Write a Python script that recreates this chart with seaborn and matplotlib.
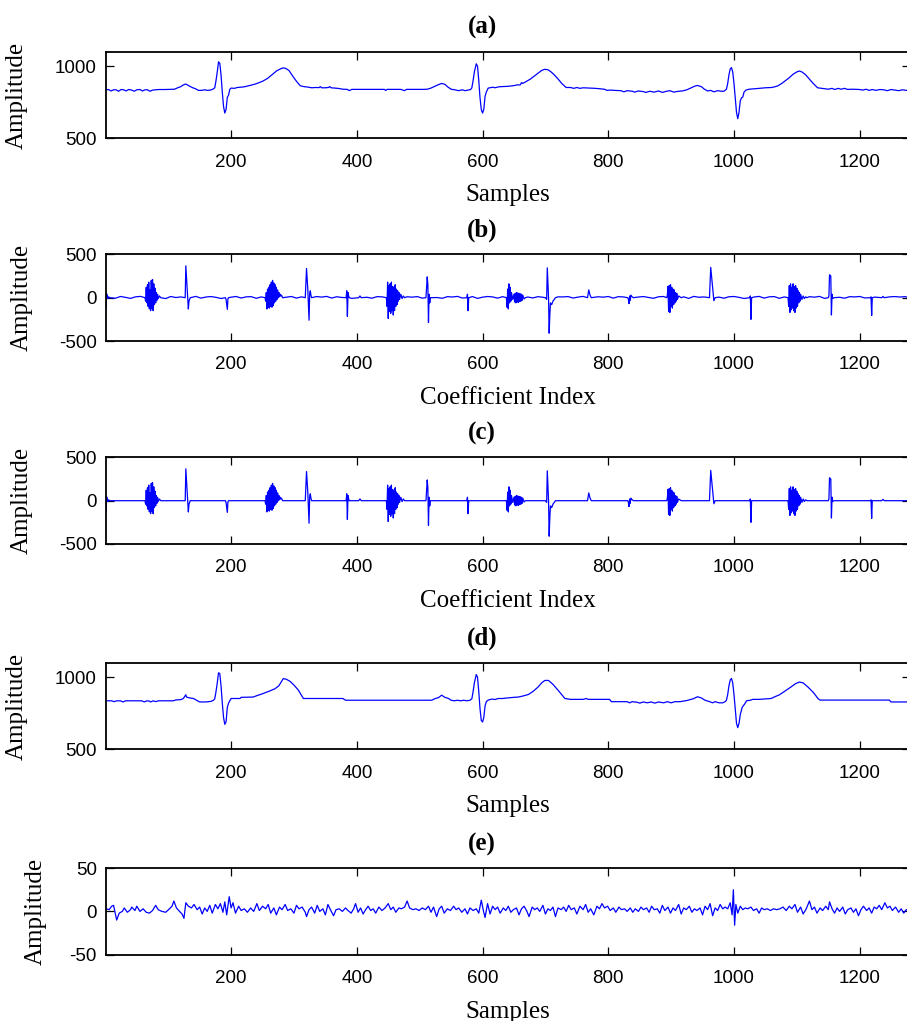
import matplotlib
matplotlib.use('Agg')
import matplotlib.pyplot as plt
import seaborn as sns

# (a) original ECG segment (sample, amplitude)
a_x = [1, 5, 9, 13, 17, 21, 25, 29, 33, 37, 42, 46, 50, 55, 59, 63, 67, 71, 75, 80, 85, 95, 110, 115, 120, 124, 128,
       132, 138, 144, 148, 153, 158, 162, 167, 171, 174, 176, 178, 180, 182, 184, 186, 188, 190, 192, 194, 196, 198,
       200, 205, 210, 220, 230, 240, 250, 258, 265, 272, 279, 283, 287, 292, 299, 304, 310, 316, 322, 328, 335, 340,
       342, 344, 350, 355, 357, 359, 370, 378, 385, 388, 392, 430, 444, 446, 448, 470, 476, 479, 505, 512, 518, 524,
       530, 535, 540, 545, 550, 556, 562, 568, 572, 577, 581, 583, 585, 587, 590, 592, 594, 596, 598, 600, 602, 604,
       606, 609, 612, 616, 620, 625, 630, 640, 650, 655, 660, 662, 664, 670, 676, 682, 688, 694, 699, 704, 709, 714,
       720, 726, 733, 740, 745, 750, 755, 760, 770, 780, 794, 798, 803, 810, 820, 825, 830, 838, 842, 848, 855, 860,
       866, 873, 880, 886, 893, 898, 904, 912, 918, 925, 932, 938, 942, 948, 953, 958, 963, 968, 974, 980, 984, 988,
       990, 992, 994, 996, 998, 1000, 1002, 1004, 1006, 1008, 1010, 1012, 1014, 1016, 1019, 1024, 1030, 1040, 1050,
       1060, 1066, 1070, 1076, 1082, 1088, 1094, 1100, 1104, 1108, 1114, 1120, 1126, 1133, 1140, 1150, 1156, 1160,
       1166, 1170, 1176, 1180, 1190, 1200, 1205, 1210, 1215, 1220, 1226, 1232, 1238, 1244, 1250, 1256, 1262, 1268,
       1274, 1280]
a_y = [836, 838, 828, 836, 836, 826, 838, 836, 828, 838, 834, 826, 836, 838, 828, 836, 836, 826, 834, 836, 838, 838,
       840, 850, 858, 870, 876, 866, 852, 842, 832, 832, 836, 832, 834, 840, 850, 900, 960, 1030, 1020, 940, 820, 720,
       675, 700, 784, 800, 840, 848, 846, 852, 856, 866, 878, 895, 915, 940, 966, 982, 988, 984, 970, 925, 895, 864,
       858, 855, 850, 852, 851, 858, 850, 850, 852, 858, 850, 846, 840, 839, 830, 839, 839, 839, 831, 839, 839, 830,
       839, 839, 840, 848, 860, 872, 880, 874, 855, 840, 836, 830, 836, 830, 834, 838, 850, 900, 960, 1016, 1000, 900,
       780, 700, 675, 700, 790, 820, 848, 850, 854, 850, 856, 858, 860, 865, 870, 870, 886, 880, 895, 910, 930, 950,
       970, 978, 975, 960, 940, 912, 880, 852, 852, 846, 852, 846, 850, 848, 846, 840, 832, 834, 832, 830, 822, 830,
       826, 820, 828, 824, 818, 826, 820, 828, 818, 826, 830, 820, 826, 828, 836, 850, 862, 866, 858, 840, 828, 832,
       822, 830, 826, 826, 840, 880, 940, 980, 990, 960, 880, 780, 680, 636, 680, 760, 780, 786, 820, 834, 840, 842,
       846, 850, 852, 858, 864, 880, 900, 920, 944, 960, 966, 960, 940, 910, 880, 850, 846, 840, 846, 838, 846, 840,
       846, 839, 840, 838, 834, 840, 832, 838, 832, 838, 836, 830, 838, 834, 830, 836, 832, 830]

# (d) denoised ECG
d_x = [1, 10, 14, 18, 24, 28, 32, 58, 62, 66, 70, 72, 76, 80, 84, 108, 112, 120, 124, 128, 129, 134, 140, 146, 150,
       160, 168, 172, 174, 176, 178, 180, 182, 184, 186, 188, 190, 192, 194, 196, 198, 200, 214, 216, 235, 240, 250,
       262, 270, 276, 283, 288, 294, 300, 307, 315, 378, 382, 519, 525, 530, 535, 540, 546, 550, 555, 560, 565, 570,
       575, 580, 583, 585, 587, 590, 592, 594, 596, 598, 600, 602, 604, 606, 609, 615, 620, 625, 632, 640, 650, 657,
       665, 673, 680, 688, 694, 699, 705, 712, 720, 731, 740, 760, 765, 768, 802, 805, 830, 834, 838, 846, 850, 856,
       862, 868, 874, 880, 888, 894, 900, 906, 914, 925, 935, 942, 948, 954, 960, 966, 970, 976, 982, 986, 988, 990,
       992, 994, 996, 998, 1000, 1002, 1004, 1006, 1008, 1010, 1013, 1017, 1020, 1026, 1030, 1040, 1059, 1066, 1072,
       1080, 1090, 1098, 1104, 1110, 1118, 1126, 1134, 1137, 1247, 1250, 1280]
d_y = [836, 836, 830, 836, 836, 828, 836, 836, 828, 836, 834, 828, 836, 830, 836, 836, 842, 844, 852, 878, 862, 856,
       852, 838, 828, 828, 832, 840, 850, 900, 960, 1030, 1025, 940, 820, 720, 673, 690, 790, 820, 836, 852, 852, 860,
       862, 870, 885, 905, 920, 940, 990, 985, 970, 945, 910, 852, 852, 840, 840, 852, 858, 875, 860, 852, 840, 836,
       840, 836, 840, 836, 840, 850, 900, 960, 1018, 1000, 900, 780, 700, 689, 720, 800, 830, 841, 848, 845, 852, 852,
       856, 860, 862, 870, 880, 900, 930, 960, 977, 977, 950, 910, 852, 846, 846, 852, 846, 846, 830, 830, 822, 830,
       826, 820, 828, 822, 828, 820, 828, 822, 830, 822, 830, 830, 838, 850, 864, 856, 840, 832, 822, 830, 822, 822,
       830, 840, 880, 940, 980, 991, 960, 880, 780, 680, 650, 680, 740, 790, 814, 836, 840, 846, 846, 852, 866, 877,
       900, 930, 955, 966, 960, 930, 895, 850, 841, 841, 828, 828]

# (b)/(c) significant wavelet coefficients (index, value)
coef_x = [1, 2, 3, 4, 5, 7,
          63, 64, 65, 66, 67, 68, 69, 70, 71, 72, 73, 74, 75, 76, 77, 78, 79, 80, 81, 82, 83, 84, 86, 88,
          127, 128, 132, 133, 135,
          191, 192, 194, 195, 196,
          254, 255, 256, 257, 258, 259, 260, 261, 262, 263, 264, 265, 266, 267, 268, 269, 270, 271, 272, 273, 274,
          275, 276, 277, 278, 279, 280, 282,
          318, 320, 322, 324, 325, 326, 327, 328,
          383, 384, 385, 386, 387, 388,
          403, 405, 407,
          447, 448, 449, 450, 451, 452, 453, 454, 455, 456, 457, 458, 459, 460, 461, 462, 463, 464, 465, 466, 467,
          468, 470, 472, 474, 476,
          510, 512, 513, 514, 515, 516, 517,
          575, 576, 577, 578,
          638, 639, 640, 641, 642, 643, 644, 645, 646, 648, 650, 651, 652, 653, 654, 655, 656, 657, 658, 659, 660,
          661, 662, 663, 664, 666, 668,
          700, 702, 703, 705, 706, 707, 708, 710, 712, 714, 716,
          767, 769, 771, 773,
          831, 832, 833, 834, 835, 836, 838, 840,
          893, 894, 895, 896, 897, 898, 899, 900, 901, 902, 903, 904, 905, 906, 907, 908, 909, 910, 912, 914, 916,
          961, 963, 968, 970,
          1025, 1026, 1027, 1028,
          1086, 1087, 1088, 1089, 1090, 1091, 1092, 1093, 1094, 1095, 1096, 1097, 1098, 1099, 1100, 1101, 1102,
          1103, 1104, 1105, 1106, 1108, 1110, 1112, 1114, 1116,
          1150, 1151, 1152, 1154, 1155, 1156, 1157, 1159,
          1217, 1218, 1219, 1220,
          1235, 1237, 1239,
          1280]
coef_y = [-120, 45, 20, -10, 10, 0,
          0, -40, 120, -60, 150, -100, 180, -130, 90, -150, 200, -120, 210, -150, 160, -80, 110, -60, 60, -30, 40,
          -10, 20, 0,
          0, 368, -130, -40, 0,
          0, -20, -135, -10, 0,
          0, -40, 60, -130, 100, -110, 120, -120, 150, -100, 180, -110, 200, -90, 170, -60, 150, -40, 120, -20, 90,
          0, 60, 10, 40, 20, 30, 0,
          0, 337, 100, -260, 50, 80, 30, 0,
          0, 80, -216, 60, 20, 0,
          0, 20, 0,
          0, -100, 180, -240, 140, -160, 160, -180, 180, -150, 130, -200, 120, -150, 150, -100, 100, -80, 80, -40,
          60, -20, 40, -10, 20, 0,
          0, 240, 150, -286, 40, -60, 0,
          0, 40, -150, 0,
          0, -110, 100, -130, 160, -60, 120, -40, 60, -20, 40, -50, 50, -60, 60, -50, 55, -55, 50, -45, 45, -40,
          40, -30, 30, -15, 0,
          0, -20, 345, 0, -410, -200, -60, -80, -40, -20, 0,
          0, 90, 30, 0,
          0, -20, -68, 20, -30, 30, 10, 0,
          0, 30, 130, -160, 140, -170, 150, -100, 120, -120, 100, -80, 90, -60, 60, -40, 50, -20, 20, 10, 0,
          0, 350, -35, 0,
          0, 20, -250, 0,
          0, -100, 140, -170, 160, -140, 120, -120, 160, -150, 130, -170, 140, -120, 110, -100, 80, -60, 60, -40,
          40, -20, 20, -10, 10, 0,
          0, 20, 265, 250, -200, 40, -10, 0,
          0, 10, -205, 0,
          0, 15, 0,
          0]

# (b) small detail coefficients removed by thresholding (every 8th index)
small_x = list(range(8, 1280, 8))
small_y = [12, -6, 14, 4, -8, 10, 15, -4, 8, 12,
           6, -10, 14, 2, 9, -6, 12, 15, -5, 8,
           13, 4, -9, 11, 6, 14, -4, 10, 12, -7,
           9, 15, 3, -8, 12, 6, 14, -5, 10, 8,
           -6, 13, 7, 15, -4, 11, 3, 12, -8, 9,
           14, 5, -6, 12, 10, -3, 15, 7, -9, 11,
           6, 13, -5, 9, 14, 2, -7, 12, 8, 15,
           -4, 10, 13, -8, 6, 14, 9, -5, 12, 4,
           11, -6, 15, 8, -3, 12, 5, 14, -7, 10,
           9, 13, -4, 7, 15, 2, -8, 11, 6, 14,
           -5, 12, 9, 15, -6, 8, 13, 3, -7, 11,
           14, 6, -4, 12, 10, -8, 15, 5, 9, -3,
           13, 7, -6, 11, 14, 4, -9, 12, 8, 15,
           -5, 10, 13, -7, 9, 14, 2, 11, -4, 12,
           6, 15, -8, 10, 13, 5, -6, 12, 9, 14,
           -3, 11, 7, 15, -5, 10, 13, 8, 12]

# (e) removed noise
e_x = [1, 6, 10, 13, 18, 22, 27, 30, 35, 40, 42, 47, 50, 55, 60, 65, 70, 75, 80, 84, 90, 96, 102, 106, 109, 113, 118,
       122, 125, 128, 132, 137, 141, 146, 150, 154, 158, 162, 166, 170, 175, 179, 183, 187, 190, 193, 197, 200, 203,
       207, 212, 216, 221, 226, 231, 236, 241, 245, 250, 255, 259, 263, 268, 272, 277, 281, 286, 290, 295, 300, 304,
       308, 313, 318, 320, 324, 328, 333, 337, 341, 346, 350, 354, 358, 363, 367, 372, 377, 382, 386, 391, 395, 398,
       402, 406, 410, 414, 418, 422, 426, 430, 435, 440, 445, 450, 454, 458, 462, 467, 471, 476, 480, 484, 489, 494,
       499, 504, 509, 514, 518, 522, 527, 531, 535, 539, 544, 549, 554, 558, 562, 567, 572, 576, 580, 585, 590, 594,
       598, 601, 604, 608, 612, 616, 620, 624, 628, 633, 637, 641, 645, 649, 654, 658, 662, 666, 670, 674, 679, 683,
       687, 691, 696, 700, 704, 708, 712, 716, 720, 725, 729, 733, 737, 741, 746, 750, 755, 760, 764, 768, 772, 777,
       782, 786, 790, 794, 799, 803, 808, 812, 817, 821, 826, 830, 835, 839, 843, 848, 852, 856, 861, 865, 869, 873,
       878, 882, 886, 890, 895, 899, 903, 907, 912, 916, 920, 924, 929, 933, 937, 941, 946, 950, 954, 958, 962, 966,
       970, 974, 978, 982, 986, 990, 994, 997, 999, 1001, 1003, 1006, 1010, 1014, 1018, 1022, 1027, 1031, 1036,
       1040, 1044, 1048, 1053, 1058, 1063, 1068, 1073, 1078, 1083, 1088, 1092, 1097, 1101, 1106, 1110, 1115, 1120,
       1124, 1128, 1132, 1137, 1141, 1146, 1150, 1152, 1156, 1160, 1164, 1168, 1173, 1177, 1181, 1186, 1190, 1194,
       1198, 1202, 1206, 1211, 1215, 1219, 1223, 1227, 1231, 1235, 1240, 1244, 1248, 1252, 1257, 1262, 1266, 1270,
       1274, 1279]
e_y = [3, 2, 6, 7, -10, -2, 0, 4, -1, 2, 5, 1, 6, 0, 3, -1, -2, 1, 7, 2, 0, -1, 3, 6, 12, 4, 0, -3, -8, 10, 6, 4,
       8, 2, 5, -3, 4, 0, 7, -2, 8, 3, 9, -1, 11, -4, 17, 4, 10, -2, 6, 1, 3, -1, 4, 0, 9, 1, 6, 3, 8, -2, 4, -4, 5,
       2, 8, 1, 3, -2, 7, 3, 5, -1, -6, 2, 5, -2, 7, 0, 3, -4, 8, 2, -5, 2, 3, 0, 4, 1, -2, 3, 9, -1, 4, -3, 2, 6, 1,
       3, -2, 5, 1, 4, 9, 2, 5, -1, 4, 3, 5, 12, 4, 2, 3, 1, 4, 2, 6, -1, 5, -6, 3, 6, -2, 3, 1, 6, 2, 4, -1, 3, -3,
       4, 1, 3, -2, 13, 2, -7, 9, -3, 6, 2, 5, -2, 4, 1, 6, -1, 2, 4, -4, 3, 6, 1, -6, 5, 2, 4, 0, 7, -3, 3, 1, 5, -6,
       4, 2, 5, 0, 7, 2, 4, -3, 6, 2, 8, -1, 3, -4, 6, 3, 9, 4, 6, 1, 4, -1, 5, 2, 3, 0, 4, -1, 3, 0, 5, 2, 4, -1, 6,
       2, 3, -2, 7, 1, 5, -2, 4, 1, 8, -3, 4, 2, 6, -1, 3, 1, 4, -4, 6, 2, 9, -5, 4, 1, 8, 3, 5, 3, 10, -4, 25, -16, 8,
       -2, 6, 2, 4, 3, 5, 1, 3, -2, 4, 2, 3, 1, 3, 2, 3, 5, 1, 6, 3, 8, -1, 5, -3, 3, 12, 2, 5, -2, 4, 1, 6, 2, 11, 3,
       -2, 4, 0, 5, -3, 2, 4, -1, 3, -5, 2, 6, 1, 4, -2, 5, 3, 7, 2, 10, 4, 6, 1, 5, -1, 3, -2, 2, 0]


def with_small_coefs(cx, cy, sx, sy):
    # split the kept coefficients into events and drop small ones that fall inside them
    spans = []
    start = cx[0]
    for lo, hi in zip(cx[:-1], cx[1:]):
        if hi - lo > 10:
            spans.append((start, lo))
            start = hi
    spans.append((start, cx[-1]))
    keep = [(x, y) for x, y in zip(sx, sy)
            if not any(s0 - 3 <= x <= s1 + 3 for s0, s1 in spans)]
    pts = sorted(list(zip(cx, cy)) + keep)
    return [p[0] for p in pts], [p[1] for p in pts]


b_x, b_y = with_small_coefs(coef_x, coef_y, small_x, small_y)

panels = [
    ('(a)', a_x, a_y, 'Samples', (500, 1100), [500, 1000], 28),
    ('(b)', b_x, b_y, 'Coefficient Index', (-500, 500), [-500, 0, 500], 33),
    ('(c)', coef_x, coef_y, 'Coefficient Index', (-500, 500), [-500, 0, 500], 33),
    ('(d)', d_x, d_y, 'Samples', (500, 1100), [500, 1000], 28),
    ('(e)', e_x, e_y, 'Samples', (-50, 50), [-50, 0, 50], 47),
]
bottoms_px = [138.3, 341.0, 544.0, 749.3, 954.7]

sns.set_style('ticks')
plt.rcParams['font.family'] = ['Liberation Sans', 'DejaVu Sans']
plt.rcParams['axes.unicode_minus'] = False
plt.rcParams['text.color'] = 'black'
plt.rcParams['axes.labelcolor'] = 'black'

W, H = 907, 1021
fig = plt.figure(figsize=(W / 100, H / 100), dpi=100)
left_px, right_px, h_px = 106, 910, 86.6

for (tag, xs, ys, xlab, ylim, yticks, ylab_px), bot in zip(panels, bottoms_px):
    ax = fig.add_axes([left_px / W, 1 - bot / H, (right_px - left_px) / W, h_px / H])
    sns.lineplot(x=xs, y=ys, ax=ax, color='#0000ff', linewidth=0.9, estimator=None, sort=False)
    ax.set_xlim(1, 1280)
    ax.set_ylim(*ylim)
    ax.set_xticks([200, 400, 600, 800, 1000, 1200])
    ax.set_yticks(yticks)
    ax.tick_params(direction='in', length=5.5, width=0.9, top=True, right=True,
                   labelsize=13.5, colors='black', labelcolor='black')
    ax.tick_params(axis='x', pad=11)
    ax.tick_params(axis='y', pad=6.5)
    for sp in ax.spines.values():
        sp.set_visible(True)
        sp.set_linewidth(1.3)
        sp.set_color('black')
    ax.set_xlabel(xlab, family='Liberation Serif', fontsize=18, labelpad=10, color='black')
    ax.set_ylabel('Amplitude', family='Liberation Serif', fontsize=18, color='black')
    ax.yaxis.set_label_coords((ylab_px - left_px) / (right_px - left_px), 0.5)
    ax.text(0.468, 1 + 24 / h_px, tag, transform=ax.transAxes, ha='center', va='center',
            family='Liberation Serif', fontweight='bold', fontsize=18, color='black')

fig.savefig('out.png', dpi=100)
